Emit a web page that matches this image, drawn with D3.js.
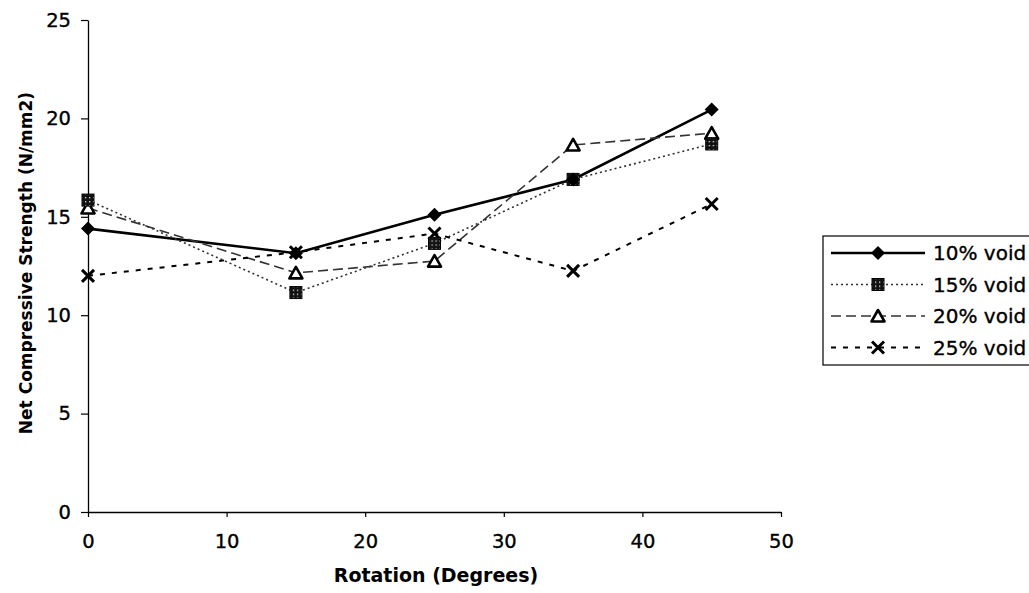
<!DOCTYPE html>
<html>
<head>
<meta charset="utf-8">
<script src="https://cdn.jsdelivr.net/npm/d3@7"></script>
<style>
  body { margin: 0; background: #fff; }
  svg { display: block; font-family: "DejaVu Sans", Verdana, sans-serif; }
</style>
</head>
<body>
<div id="chart"></div>
<script>
// Net compressive strength vs rotation
const rotations = [0, 15, 25, 35, 45];
const seriesNames = ["10% void", "15% void", "20% void", "25% void"];
const void10 = [14.4, 13.15, 15.1, 16.9, 20.45];
const void15 = [15.85, 11.15, 13.65, 16.9, 18.7];
const void20 = [15.45, 12.15, 12.75, 18.65, 19.25];
const void25 = [12.0, 13.2, 14.15, 12.25, 15.65];
const xTicks = [0, 10, 20, 30, 40, 50];
const yTicks = [0, 5, 10, 15, 20, 25];

const W = 1029, H = 593;
const margin = { left: 88, top: 20, right: 248, bottom: 81 };
const innerW = W - margin.left - margin.right;
const innerH = H - margin.top - margin.bottom;
const FONT = "'DejaVu Sans', Verdana, sans-serif";

const svg = d3.select("#chart").append("svg")
  .attr("width", W)
  .attr("height", H);

// pattern for the speckled square marker
const defs = svg.append("defs");
const pat = defs.append("pattern")
  .attr("id", "speck")
  .attr("width", 4).attr("height", 4)
  .attr("patternUnits", "userSpaceOnUse");
pat.append("rect").attr("width", 4).attr("height", 4).attr("fill", "#111");
pat.append("rect").attr("x", 1).attr("y", 1).attr("width", 1.3).attr("height", 1.3).attr("fill", "#ddd");

const g = svg.append("g")
  .attr("transform", `translate(${margin.left},${margin.top})`);

const x = d3.scaleLinear().domain([0, 50]).range([0, innerW]);
const y = d3.scaleLinear().domain([0, 25]).range([innerH, 0]);

// ===== Axes =====
const xAxis = g.append("g")
  .attr("transform", `translate(0,${innerH})`)
  .call(d3.axisBottom(x).tickValues(xTicks).tickSize(5).tickSizeOuter(0).tickPadding(17));
const yAxis = g.append("g")
  .call(d3.axisLeft(y).tickValues(yTicks).tickSize(7).tickSizeOuter(0).tickPadding(10));

[xAxis, yAxis].forEach(a => {
  a.select(".domain").attr("stroke", "#000").attr("stroke-width", 1.3);
  a.selectAll(".tick line").attr("stroke", "#000").attr("stroke-width", 1.2);
  a.selectAll("text")
    .attr("fill", "#000")
    .attr("stroke", "#000")
    .attr("stroke-width", 0.35)
    .style("font-size", "19.5px")
    .style("font-family", FONT);
});

// axis titles
svg.append("text")
  .attr("x", 436)
  .attr("y", 582)
  .attr("text-anchor", "middle")
  .style("font-size", "19px")
  .style("font-weight", "bold")
  .text("Rotation (Degrees)");

svg.append("text")
  .attr("transform", `translate(32,263) rotate(-90)`)
  .attr("text-anchor", "middle")
  .style("font-size", "17px")
  .style("font-weight", "bold")
  .text("Net Compressive Strength (N/mm2)");

// ===== Series =====
const styles = [
  { values: void10, stroke: "#000", width: 2.6, dash: null, marker: "diamond" },
  { values: void15, stroke: "#333", width: 1.6, dash: "2,3", marker: "square" },
  { values: void20, stroke: "#333", width: 1.6, dash: "10,5", marker: "triangle" },
  { values: void25, stroke: "#000", width: 2, dash: "5,7", marker: "cross" }
];

const line = d3.line().x(d => x(d[0])).y(d => y(d[1]));

function drawMarker(sel, type) {
  if (type === "diamond") {
    sel.append("path").attr("d", "M0,-7L7,0L0,7L-7,0Z").attr("fill", "#000");
  } else if (type === "square") {
    sel.append("rect").attr("x", -6).attr("y", -6).attr("width", 12).attr("height", 12)
      .attr("fill", "url(#speck)").attr("stroke", "#000").attr("stroke-width", 1);
  } else if (type === "triangle") {
    sel.append("path").attr("d", "M0,-6L6.5,5.5L-6.5,5.5Z")
      .attr("fill", "#fff").attr("stroke", "#000").attr("stroke-width", 2.6)
      .attr("stroke-linejoin", "round");
  } else {
    sel.append("path").attr("d", "M-6,-6L6,6M-6,6L6,-6")
      .attr("stroke", "#000").attr("stroke-width", 3);
  }
}

// lines first, then markers
styles.forEach(s => {
  const pts = rotations.map((r, i) => [r, s.values[i]]);
  g.append("path")
    .attr("d", line(pts))
    .attr("fill", "none")
    .attr("stroke", s.stroke)
    .attr("stroke-width", s.width)
    .attr("stroke-dasharray", s.dash);
});
styles.slice().reverse().forEach(s => {
  rotations.forEach((r, i) => {
    const m = g.append("g").attr("transform", `translate(${x(r)},${y(s.values[i])})`);
    drawMarker(m, s.marker);
  });
});

// ===== Legend =====
const leg = svg.append("g").attr("transform", "translate(823,236)");
leg.append("rect")
  .attr("width", 215).attr("height", 129)
  .attr("fill", "#fff").attr("stroke", "#000").attr("stroke-width", 1.2);

styles.forEach((s, i) => {
  const row = leg.append("g").attr("transform", `translate(0,${17 + i * 31.5})`);
  row.append("line")
    .attr("x1", 8).attr("x2", 102)
    .attr("stroke", s.stroke)
    .attr("stroke-width", s.width)
    .attr("stroke-dasharray", s.dash);
  drawMarker(row.append("g").attr("transform", "translate(55,0)"), s.marker);
  row.append("text")
    .attr("x", 110).attr("y", 7)
    .attr("stroke", "#000")
    .attr("stroke-width", 0.35)
    .style("font-size", "20px")
    .text(seriesNames[i]);
});
</script>
</body>
</html>
